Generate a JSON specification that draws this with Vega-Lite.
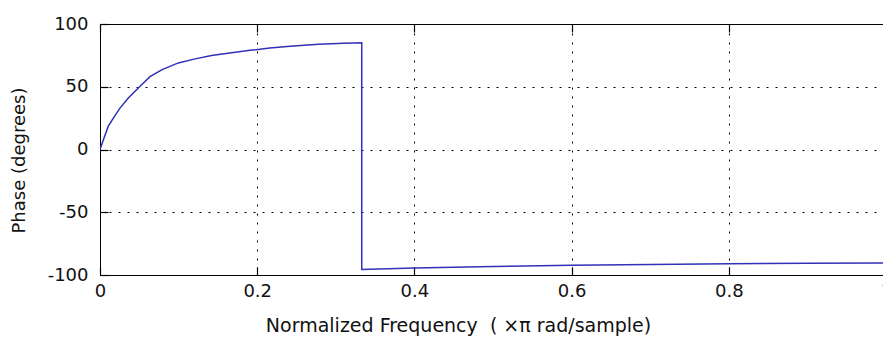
{
  "$schema": "https://vega.github.io/schema/vega-lite/v6.json",
  "width": 786,
  "height": 251,
  "autosize": "none",
  "padding": {"left": 100, "top": 24, "right": 0, "bottom": 71},
  "background": "white",
  "config": {
    "view": {"stroke": "black", "strokeWidth": 1},
    "axis": {
      "domainColor": "black",
      "tickColor": "black",
      "tickWidth": 1.2,
      "labelColor": "#111111",
      "titleColor": "#111111",
      "labelFont": "DejaVu Sans",
      "titleFont": "DejaVu Sans",
      "labelFontSize": 18,
      "titleFontSize": 18,
      "titleFontWeight": "normal",
      "labelFlush": false,
      "gridColor": "black",
      "gridDash": [2, 7],
      "gridOpacity": 1,
      "gridWidth": 1,
      "tickSize": -8
    }
  },
  "data": {
    "values": [
      {"i": 0, "f": 0, "p": 0},
      {"i": 1, "f": 0.005, "p": 9},
      {"i": 2, "f": 0.0106, "p": 18.6},
      {"i": 3, "f": 0.018, "p": 26},
      {"i": 4, "f": 0.0254, "p": 33},
      {"i": 5, "f": 0.036, "p": 41},
      {"i": 6, "f": 0.051, "p": 50.4},
      {"i": 7, "f": 0.0636, "p": 58},
      {"i": 8, "f": 0.0785, "p": 63.5},
      {"i": 9, "f": 0.0996, "p": 69},
      {"i": 10, "f": 0.121, "p": 72.2},
      {"i": 11, "f": 0.142, "p": 74.9},
      {"i": 12, "f": 0.1675, "p": 77},
      {"i": 13, "f": 0.191, "p": 79},
      {"i": 14, "f": 0.216, "p": 80.8},
      {"i": 15, "f": 0.242, "p": 82.3},
      {"i": 16, "f": 0.278, "p": 83.8},
      {"i": 17, "f": 0.31, "p": 84.6},
      {"i": 18, "f": 0.333, "p": 85},
      {"i": 19, "f": 0.333, "p": -95.6},
      {"i": 20, "f": 0.4, "p": -94.5},
      {"i": 21, "f": 0.5, "p": -93.3},
      {"i": 22, "f": 0.6, "p": -92.3},
      {"i": 23, "f": 0.7, "p": -91.6},
      {"i": 24, "f": 0.8, "p": -91},
      {"i": 25, "f": 0.9, "p": -90.6},
      {"i": 26, "f": 1.0, "p": -90.4}
    ]
  },
  "layer": [
    {
      "mark": {"type": "line", "color": "#3030b8", "strokeWidth": 1.5, "clip": true},
      "encoding": {
        "x": {
          "field": "f",
          "type": "quantitative",
          "scale": {"domain": [0, 1], "nice": false},
          "axis": {
            "values": [0, 0.2, 0.4, 0.6, 0.8, 1],
            "labelExpr": "'' + datum.value",
            "labelPadding": 15,
            "title": "Normalized Frequency\u00a0 (\u00a0×π rad/sample)",
            "titleFontSize": 19,
            "titlePadding": 16,
            "titleX": 358
          }
        },
        "y": {
          "field": "p",
          "type": "quantitative",
          "scale": {"domain": [-100, 100], "nice": false},
          "axis": {
            "values": [-100, -50, 0, 50, 100],
            "labelExpr": "'' + datum.value",
            "labelPadding": 20,
            "title": "Phase (degrees)",
            "titlePadding": 19,
            "titleY": 136
          }
        },
        "order": {"field": "i", "type": "quantitative"}
      }
    },
    {
      "mark": {"type": "line", "opacity": 0},
      "encoding": {
        "x": {
          "field": "f",
          "type": "quantitative",
          "scale": {"domain": [0, 1], "nice": false},
          "axis": {
            "orient": "top",
            "values": [0, 0.2, 0.4, 0.6, 0.8, 1],
            "labels": false,
            "grid": false,
            "domain": false,
            "title": null
          }
        },
        "y": {
          "field": "p",
          "type": "quantitative",
          "axis": null
        },
        "order": {"field": "i", "type": "quantitative"}
      }
    }
  ],
  "resolve": {"axis": {"x": "independent", "y": "independent"}}
}
